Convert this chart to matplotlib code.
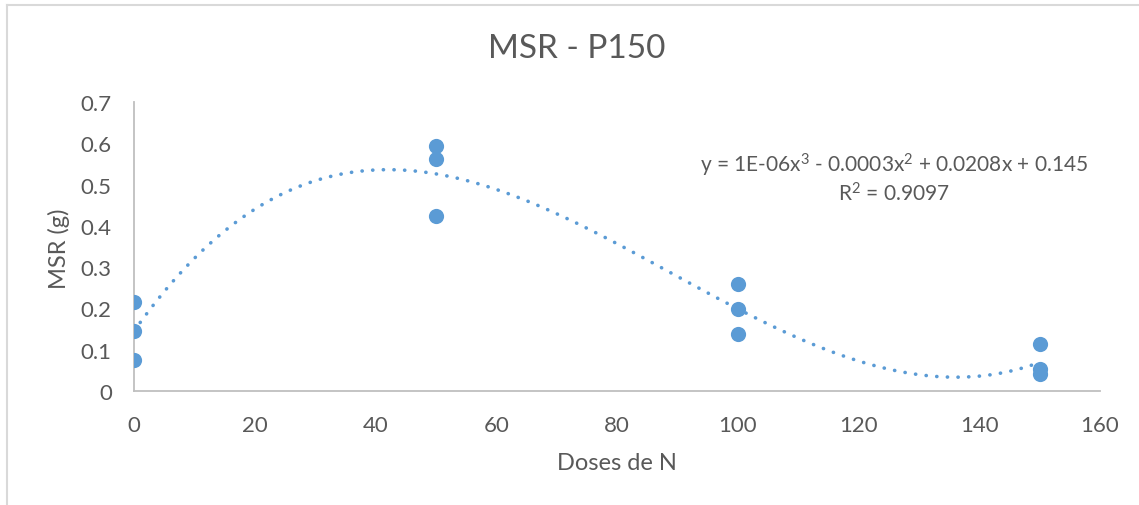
import numpy as np
import matplotlib.pyplot as plt
from matplotlib.lines import Line2D

# dose of N and measured MSR (g), three replicates per dose
doses = [0, 0, 0, 50, 50, 50, 100, 100, 100, 150, 150, 150]
msr = [0.215, 0.145, 0.075, 0.593, 0.562, 0.423, 0.259, 0.199, 0.139, 0.114, 0.054, 0.040]

x_ticks = [0, 20, 40, 60, 80, 100, 120, 140, 160]
y_ticks = [0, 0.1, 0.2, 0.3, 0.4, 0.5, 0.6, 0.7]
y_labels = ['0', '0.1', '0.2', '0.3', '0.4', '0.5', '0.6', '0.7']

equation = r'y = 1E-06x$^{3}$ - 0.0003x$^{2}$ + 0.0208x + 0.145'
r2_text = r'R$^{2}$ = 0.9097'

blue = '#5B9BD5'
grey = '#595959'
plt.rcParams['font.family'] = ['Lato', 'DejaVu Sans']
plt.rcParams['mathtext.fontset'] = 'custom'
plt.rcParams['mathtext.rm'] = 'Lato'
plt.rcParams['mathtext.it'] = 'Lato'
plt.rcParams['mathtext.default'] = 'regular'

W, H = 1139, 506
fig = plt.figure(figsize=(W / 100, H / 100), dpi=100)
ax = fig.add_axes([134 / W, 1 - 392 / H, 966 / W, 289 / H])

# cubic trendline like excel's polynomial order 3
coef = np.polyfit(doses, msr, 3)
xs = np.linspace(min(doses), max(doses), 300)
ax.plot(xs, np.polyval(coef, xs), color=blue, lw=2.6,
        linestyle=(0, (0.05, 2.9)), dash_capstyle='round', zorder=2)

ax.scatter(doses, msr, s=120, color=blue, zorder=3, linewidths=0)

ax.set_xlim(0, 160)
ax.set_ylim(0, 0.7)
ax.set_xticks(x_ticks)
ax.set_yticks(y_ticks)
ax.set_yticklabels(y_labels)
ax.tick_params(length=0, labelsize=16, colors=grey)
ax.tick_params(axis='y', pad=16)
ax.tick_params(axis='x', pad=17)
for s in ['top', 'right']:
    ax.spines[s].set_visible(False)
for s in ['left', 'bottom']:
    ax.spines[s].set_color('#BFBFBF')
    ax.spines[s].set_linewidth(1.3)
ax.patch.set_visible(False)

fig.text(577 / W, 1 - 49 / H, 'MSR - P150', ha='center', va='center',
         fontsize=24, color=grey)
fig.text(617 / W, 1 - 463 / H, 'Doses de N', ha='center', va='center',
         fontsize=17, color=grey)
fig.text(59 / W, 1 - 249 / H, 'MSR (g)', ha='center', va='center',
         rotation=90, fontsize=17, color=grey)
fig.text(894 / W, 1 - 165 / H, equation, ha='center', va='center',
         fontsize=15, color=grey)
fig.text(894 / W, 1 - 194 / H, r2_text, ha='center', va='center',
         fontsize=15, color=grey)

# chart frame edges (top and left visible in the source)
fig.add_artist(Line2D([7 / W, 1], [1 - 6 / H, 1 - 6 / H], color='#D9D9D9', lw=1.5))
fig.add_artist(Line2D([7 / W, 7 / W], [0, 1 - 6 / H], color='#D9D9D9', lw=1.5))

fig.savefig('out.png', dpi=100)
